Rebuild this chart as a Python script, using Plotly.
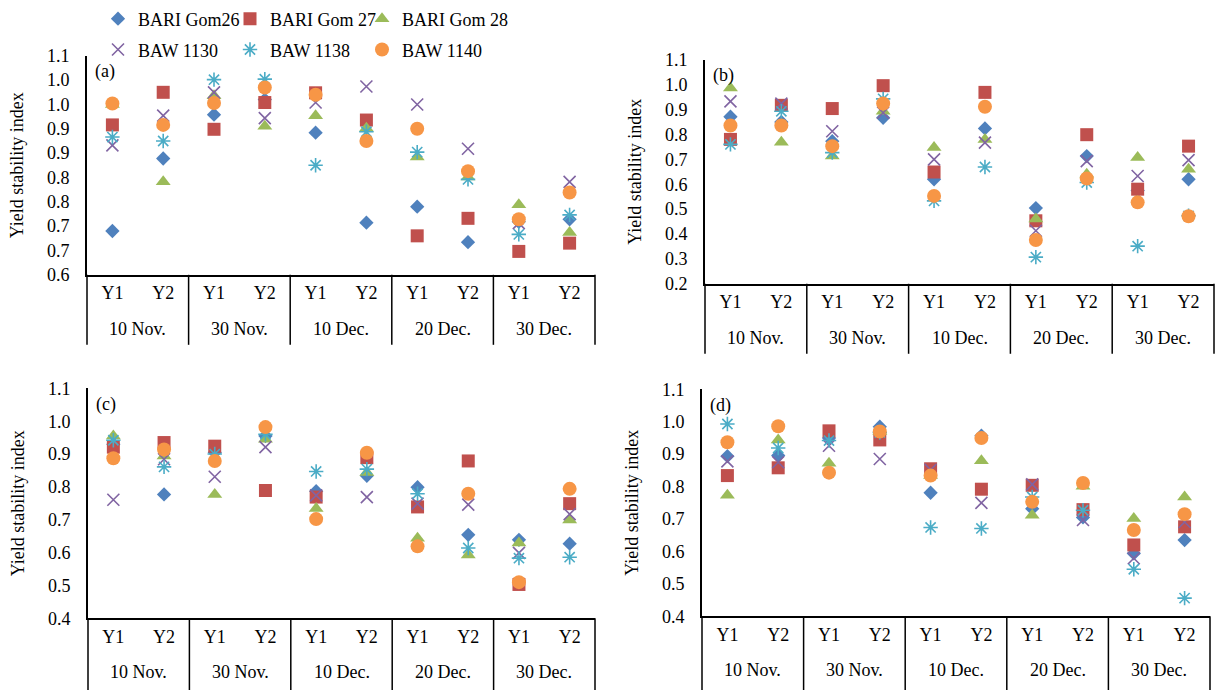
import plotly.graph_objects as go

FONT = "Liberation Serif"

dates = ["10 Nov.", "30 Nov.", "10 Dec.", "20 Dec.", "30 Dec."]
years = ["Y1", "Y2"]
varieties = ["BARI Gom26", "BARI Gom 27", "BARI Gom 28", "BAW 1130", "BAW 1138", "BAW 1140"]

# Panel (a)
a_gom26 = [0.690, 0.839, 0.929, 0.960, 0.892, 0.707, 0.740, 0.667, 0.709, 0.714]
a_gom27 = [0.908, 0.975, 0.899, 0.954, 0.974, 0.918, 0.680, 0.716, 0.648, 0.665]
a_gom28 = [0.950, 0.791, 0.968, 0.905, 0.927, 0.901, 0.842, 0.801, 0.744, 0.687]
a_baw1130 = [0.866, 0.927, 0.975, 0.922, 0.954, 0.987, 0.950, 0.859, 0.706, 0.791]
a_baw1138 = [0.883, 0.875, 1.001, 1.002, 0.825, 0.894, 0.852, 0.796, 0.683, 0.723]
a_baw1140 = [0.952, 0.908, 0.953, 0.985, 0.970, 0.875, 0.900, 0.813, 0.714, 0.769]

# Panel (b)
b_gom26 = [0.871, 0.850, 0.773, 0.867, 0.620, 0.824, 0.504, 0.713, 0.575, 0.620]
b_gom27 = [0.780, 0.917, 0.904, 0.996, 0.649, 0.969, 0.453, 0.799, 0.580, 0.753]
b_gom28 = [0.987, 0.769, 0.713, 0.893, 0.747, 0.780, 0.460, 0.640, 0.707, 0.660]
b_baw1130 = [0.933, 0.924, 0.813, 0.887, 0.700, 0.767, 0.413, 0.693, 0.633, 0.697]
b_baw1138 = [0.760, 0.893, 0.727, 0.943, 0.533, 0.669, 0.307, 0.607, 0.351, 0.473]
b_baw1140 = [0.836, 0.836, 0.753, 0.924, 0.553, 0.911, 0.376, 0.623, 0.527, 0.471]

# Panel (c)
c_gom26 = [0.930, 0.777, 0.905, 0.955, 0.787, 0.834, 0.799, 0.654, 0.639, 0.627]
c_gom27 = [0.921, 0.935, 0.924, 0.789, 0.769, 0.889, 0.739, 0.879, 0.503, 0.749]
c_gom28 = [0.955, 0.894, 0.777, 0.945, 0.734, 0.844, 0.644, 0.593, 0.629, 0.699]
c_baw1130 = [0.761, 0.884, 0.831, 0.921, 0.774, 0.769, 0.749, 0.746, 0.599, 0.717]
c_baw1138 = [0.942, 0.861, 0.900, 0.960, 0.847, 0.854, 0.779, 0.614, 0.583, 0.586]
c_baw1140 = [0.887, 0.914, 0.879, 0.982, 0.702, 0.904, 0.619, 0.779, 0.510, 0.794]

# Panel (d)
d_gom26 = [0.894, 0.896, 0.950, 0.985, 0.781, 0.957, 0.732, 0.705, 0.594, 0.635]
d_gom27 = [0.834, 0.858, 0.972, 0.944, 0.855, 0.792, 0.804, 0.729, 0.620, 0.676]
d_gom28 = [0.773, 0.944, 0.872, 0.970, 0.834, 0.880, 0.712, 0.801, 0.702, 0.768]
d_baw1130 = [0.878, 0.875, 0.926, 0.885, 0.852, 0.750, 0.807, 0.697, 0.579, 0.691]
d_baw1138 = [0.993, 0.919, 0.942, 0.967, 0.674, 0.671, 0.768, 0.727, 0.545, 0.456]
d_baw1140 = [0.937, 0.986, 0.843, 0.970, 0.834, 0.950, 0.753, 0.811, 0.666, 0.715]

# Tick labels
a_tickvals = [0.60, 0.65, 0.70, 0.75, 0.80, 0.85, 0.90, 0.95, 1.00, 1.05]
a_ticktext = ["0.6", "0.7", "0.7", "0.8", "0.8", "0.9", "0.9", "1.0", "1.0", "1.1"]
b_tickvals = [0.2, 0.3, 0.4, 0.5, 0.6, 0.7, 0.8, 0.9, 1.0, 1.1]
b_ticktext = ["0.2", "0.3", "0.4", "0.5", "0.6", "0.7", "0.8", "0.9", "1.0", "1.1"]
cd_tickvals = [0.4, 0.5, 0.6, 0.7, 0.8, 0.9, 1.0, 1.1]
cd_ticktext = ["0.4", "0.5", "0.6", "0.7", "0.8", "0.9", "1.0", "1.1"]

# category keys (date + year) shown with the year as tick label, date as group label
x_keys = [f"{d} {y}" for d in dates for y in years]
x_inner = [y for _ in dates for y in years]

styles = [
    dict(symbol="diamond", color="#4F81BD", size=11, line=dict(width=0)),
    dict(symbol="square", color="#C0504D", size=13, line=dict(width=0)),
    dict(symbol="triangle-up", color="#9BBB59", size=13, line=dict(width=0)),
    dict(symbol="x-thin-open", color="#8064A2", size=12, line=dict(width=1.6, color="#8064A2")),
    dict(symbol="asterisk-open", color="#4BACC6", size=12, line=dict(width=1.6, color="#4BACC6")),
    dict(symbol="circle", color="#F79646", size=14, line=dict(width=0)),
]
legend_names = ["legend", "legend2", "legend3", "legend4", "legend5", "legend6"]

panels = [
    ("x", "y", [a_gom26, a_gom27, a_gom28, a_baw1130, a_baw1138, a_baw1140], 70),
    ("x2", "y2", [b_gom26, b_gom27, b_gom28, b_baw1130, b_baw1138, b_baw1140], 70),
    ("x3", "y3", [c_gom26, c_gom27, c_gom28, c_baw1130, c_baw1138, c_baw1140], 74),
    ("x4", "y4", [d_gom26, d_gom27, d_gom28, d_baw1130, d_baw1138, d_baw1140], 76),
]

fig = go.Figure()
for pi, (xa, ya, series, _) in enumerate(panels):
    for si, vals in enumerate(series):
        fig.add_trace(go.Scatter(
            x=x_keys, y=vals, mode="markers",
            name=varieties[si], marker=styles[si],
            xaxis=xa, yaxis=ya,
            showlegend=(pi == 0),
            legend=legend_names[si],
            cliponaxis=False,
        ))

W, H = 1217, 690

def xdom(l, r):
    return [l / W, r / W]

def ydom(top, bottom):
    return [(H - bottom) / H, (H - top) / H]

def xaxis(dom, anchor):
    return dict(domain=dom, anchor=anchor, type="category",
                categoryorder="array", categoryarray=x_keys,
                tickmode="array", tickvals=x_keys, ticktext=x_inner,
                showline=True, linecolor="black", linewidth=2, ticks="",
                ticklabelstandoff=1,
                range=[-0.5, len(x_keys) - 0.5], showgrid=False, zeroline=False,
                tickfont=dict(family=FONT, size=18, color="black"),
                automargin=False)

def yaxis(dom, anchor, rng, tv, tt):
    return dict(domain=dom, anchor=anchor, range=rng, tickmode="array",
                tickvals=tv, ticktext=tt, showline=True, linecolor="black",
                linewidth=2, ticks="", showgrid=False, zeroline=False,
                ticklabelstandoff=12,
                tickfont=dict(family=FONT, size=18, color="black"),
                title=dict(text="Yield stability index", standoff=19,
                           font=dict(family=FONT, size=18, color="black")),
                automargin=False)

layout = dict(
    width=W, height=H, margin=dict(l=0, r=0, t=0, b=0),
    paper_bgcolor="white", plot_bgcolor="white",
    font=dict(family=FONT, size=18, color="black"),
    xaxis=xaxis(xdom(87, 595), "y"),
    yaxis=yaxis(ydom(53, 273), "x", [0.5999, 1.0501], a_tickvals, a_ticktext),
    xaxis2=xaxis(xdom(705, 1214), "y2"),
    yaxis2=yaxis(ydom(57, 282), "x2", [0.1999, 1.1001], b_tickvals, b_ticktext),
    xaxis3=xaxis(xdom(88, 595), "y3"),
    yaxis3=yaxis(ydom(387, 618), "x3", [0.3999, 1.1001], cd_tickvals, cd_ticktext),
    xaxis4=xaxis(xdom(702, 1210), "y4"),
    yaxis4=yaxis(ydom(388, 616), "x4", [0.3999, 1.1001], cd_tickvals, cd_ticktext),
)

# one legend box per entry, laid out as a 3 x 2 grid like the original
legend_cols = [98, 230, 362]
legend_rows = [16, 47]
for i, ln in enumerate(legend_names):
    layout[ln] = dict(orientation="h", x=legend_cols[i % 3] / W, y=1 - legend_rows[i // 3] / H,
                      xanchor="left", yanchor="middle", bgcolor="rgba(0,0,0,0)",
                      font=dict(family=FONT, size=18, color="black"), itemwidth=30)

fig.update_layout(**layout)

n_groups = len(dates)
for lab, (xa, ya, _, div_len) in zip(["(a)", "(b)", "(c)", "(d)"], panels):
    xd, yd = f"{xa} domain", f"{ya} domain"
    fig.add_annotation(text=lab, xref=xd, yref=yd, x=0.012, y=0.985,
                       xanchor="left", yanchor="top", showarrow=False,
                       font=dict(family=FONT, size=18, color="black"))
    # sowing-date group labels under the Y1/Y2 labels
    for k, d in enumerate(dates):
        fig.add_annotation(text=d, xref=xd, yref=yd, x=(k + 0.5) / n_groups, y=0,
                           yshift=-54, xanchor="center", yanchor="middle", showarrow=False,
                           font=dict(family=FONT, size=18, color="black"))
    # vertical group separators running down through the label rows
    for k in range(n_groups + 1):
        fig.add_shape(type="line", xref=xd, yref=yd, x0=k / n_groups, x1=k / n_groups,
                      ysizemode="pixel", yanchor=0, y0=0, y1=-div_len,
                      line=dict(color="black", width=1.5))

fig.write_html("out.html")
